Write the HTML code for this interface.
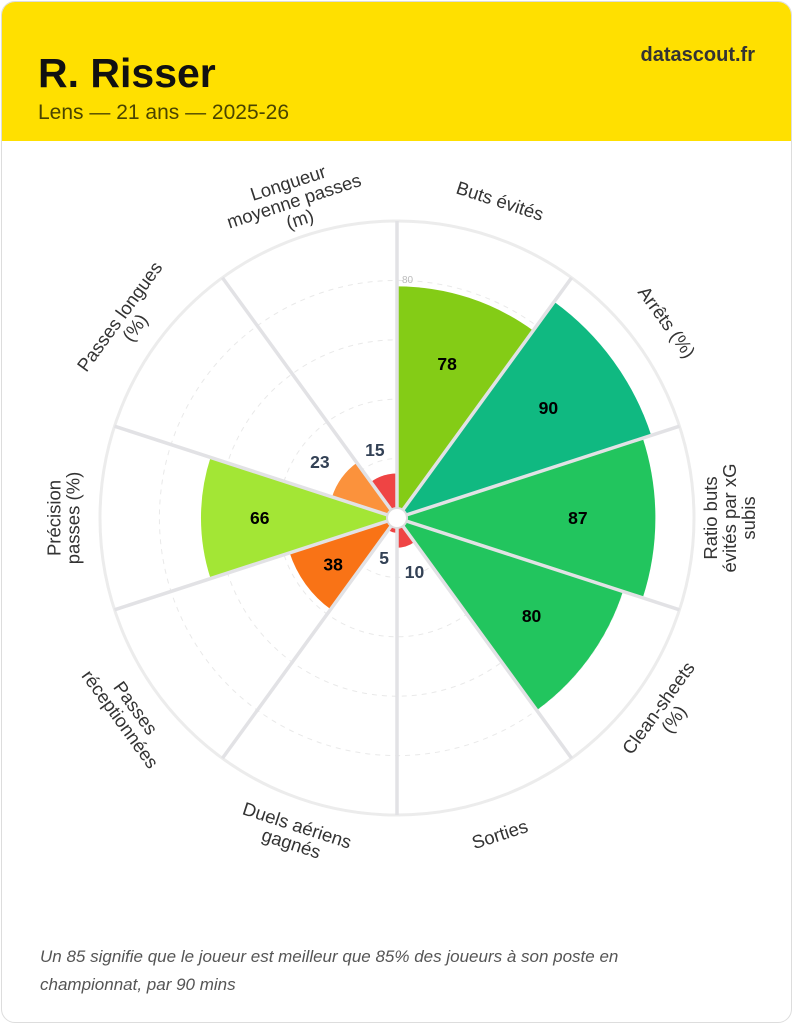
<!DOCTYPE html>
<html><head><meta charset="utf-8"><style>
body{margin:0;background:#fff;width:793px;height:1024px;overflow:hidden;font-family:"Liberation Sans",sans-serif}
.card{position:absolute;left:1px;top:1px;width:789px;height:1020px;border:1px solid #ddd;border-radius:14px;overflow:hidden;background:#fff}
.hd{position:absolute;left:0;top:0;width:789px;height:139px;background:#ffe000}
.t{position:absolute;left:36px;top:48px;font-size:41px;font-weight:bold;color:#111}
.s{position:absolute;left:36px;top:99px;font-size:21px;color:#4a4400}
.d{position:absolute;right:36px;top:42px;font-size:20px;font-weight:bold;color:#333}
.f{position:absolute;left:38px;top:941px;font-size:17px;font-style:italic;color:#555;line-height:28px}
svg{position:absolute;left:0;top:0}
</style></head><body>
<div class="card"><div class="hd"></div>
<div class="t">R. Risser</div><div class="s">Lens — 21 ans — 2025-26</div><div class="d">datascout.fr</div>
<div class="f">Un 85 signifie que le joueur est meilleur que 85% des joueurs à son poste en<br>championnat, par 90 mins</div>
</div>
<svg id="c" width="793" height="1024" font-family="Liberation Sans, sans-serif"></svg>
<script>
var cx=397,cy=518,R=297,k=2.97;
var d=[["Buts évités",78,"#84cc16"],["Arrêts (%)",90,"#10b981"],["Ratio buts|évités par xG|subis",87,"#22c55e"],["Clean-sheets|(%)",80,"#22c55e"],["Sorties",10,"#ef4444"],["Duels aériens|gagnés",5,"#ef4444"],["Passes|réceptionnées",38,"#f97316"],["Précision|passes (%)",66,"#a3e635"],["Passes longues|(%)",23,"#fb923c"],["Longueur|moyenne passes|(m)",15,"#ef4444"]];
function P(r,a){a=a*Math.PI/180;return [cx+r*Math.sin(a),cy-r*Math.cos(a)];}
var s='<circle cx="'+cx+'" cy="'+cy+'" r="'+R+'" fill="none" stroke="#ececec" stroke-width="3"/>';
[20,40,60,80].forEach(function(v){s+='<circle cx="'+cx+'" cy="'+cy+'" r="'+(v*k)+'" fill="none" stroke="#e9e9e9" stroke-width="1" stroke-dasharray="5,5"/>';});
d.forEach(function(e,i){var r=e[1]*k,a0=i*36,a1=a0+36,p0=P(r,a0),p1=P(r,a1);
s+='<path d="M'+cx+' '+cy+'L'+p0[0]+' '+p0[1]+'A'+r+' '+r+' 0 0 1 '+p1[0]+' '+p1[1]+'Z" fill="'+e[2]+'"/>';});
for(var i=0;i<10;i++){var p=P(R,i*36);s+='<line x1="'+cx+'" y1="'+cy+'" x2="'+p[0]+'" y2="'+p[1]+'" stroke="#e2e2e5" stroke-width="3.5"/>';}
s+='<circle cx="'+cx+'" cy="'+cy+'" r="10" fill="#fff" stroke="#ddd" stroke-width="2"/>';
s+='<text x="402" y="283" font-size="10" fill="#bbb">80</text>';
d.forEach(function(e,i){var a=i*36+18,v=e[1],r=v<30?v*k+27:v*k*0.7,p=P(r,a);
s+='<text x="'+p[0]+'" y="'+(p[1]+6)+'" text-anchor="middle" font-size="17.5" font-weight="bold" fill="'+(v<30?"#334155":"#000")+'">'+v+'</text>';
var q=P(333,a),rot=a>=90&&a<270?a-180:a,L=e[0].split("|"),n=L.length;
s+='<g transform="translate('+q[0]+','+q[1]+') rotate('+rot+')">';
L.forEach(function(t,j){s+='<text x="0" y="'+((j-(n-1)/2)*19+6)+'" text-anchor="middle" font-size="18.5" fill="#333">'+t+'</text>';});
s+='</g>';});
document.getElementById("c").innerHTML=s;
</script>
</body></html>
